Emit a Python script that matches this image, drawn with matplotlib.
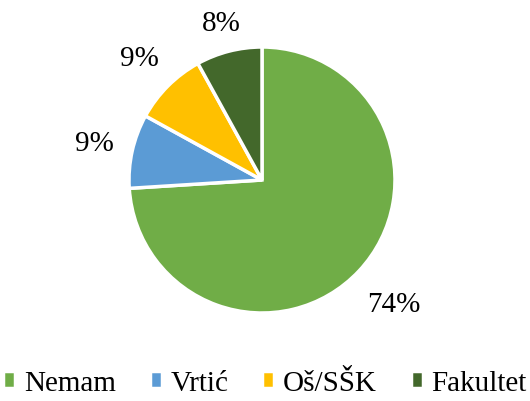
import numpy as np
import matplotlib.pyplot as plt

categories = ['Nemam', 'Vrtić', 'Oš/SŠK', 'Fakultet']
shares = [74, 9, 9, 8]
colors = ['#70AD47', '#5B9BD5', '#FFC000', '#43682B']

plt.rcParams['font.family'] = ['Liberation Serif', 'DejaVu Serif']

fig = plt.figure(figsize=(5.3, 4.02), dpi=100)
ax = fig.add_axes([129 / 530, (402 - 181 - 133) / 402, 266 / 530, 266 / 402])

wedges, texts, autotexts = ax.pie(
    shares, colors=colors, startangle=90, counterclock=False,
    autopct='%d%%', pctdistance=1.3,
    wedgeprops=dict(edgecolor='white', linewidth=2.5),
    textprops=dict(fontsize=21, color='black'))

# label distance from the centre, per wedge
label_dist = [1.36, 1.29, 1.3, 1.22]
for w, t, d in zip(wedges, autotexts, label_dist):
    mid = np.deg2rad((w.theta1 + w.theta2) / 2)
    t.set_position((d * np.cos(mid), d * np.sin(mid)))

ax.set_xlim(-1, 1)
ax.set_ylim(-1, 1)
ax.set_aspect('equal')

fig.legend(wedges, categories, loc='center', bbox_to_anchor=(0.5, 1 - 384 / 402),
           ncol=4, frameon=False, fontsize=21, handlelength=0.42, handleheight=0.5,
           handletextpad=0.3, columnspacing=1.15)

fig.savefig('out.png', dpi=100)
